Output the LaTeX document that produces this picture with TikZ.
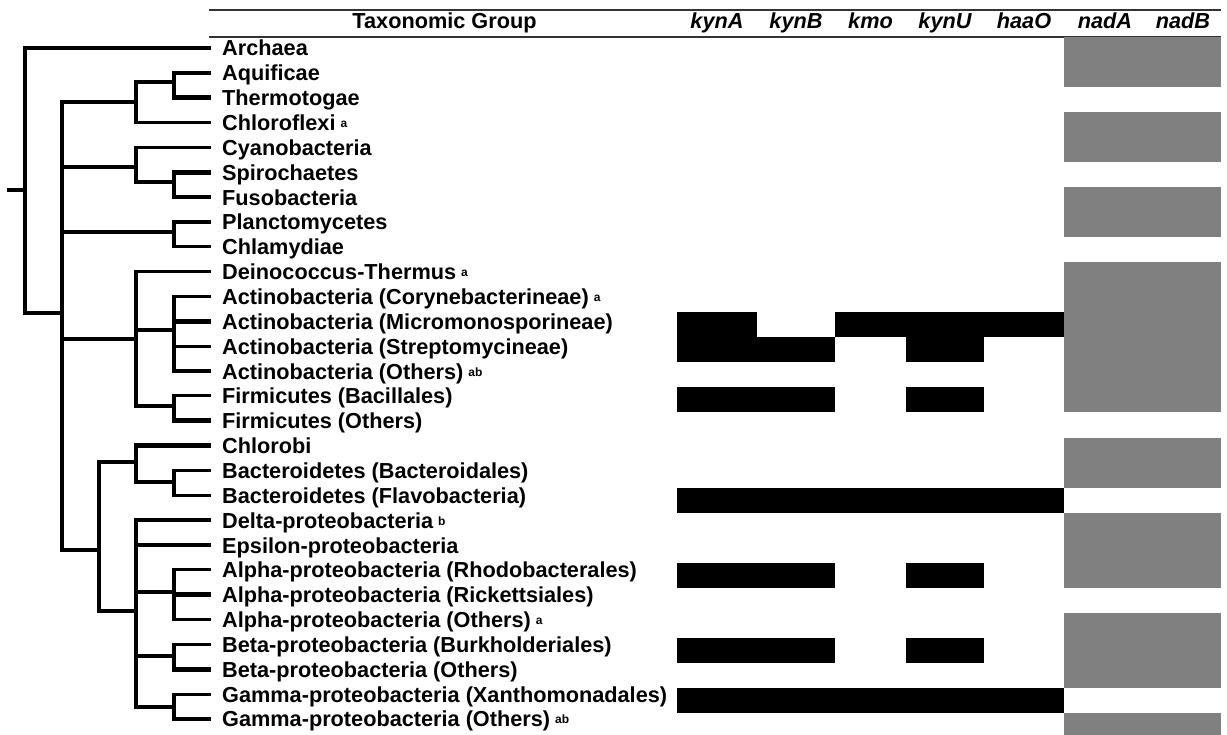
\documentclass[tikz,border=0pt]{standalone}
\usepackage{fontspec}
\setmainfont{Liberation Sans}
\definecolor{nadgray}{HTML}{808080}
\newcommand\supmark[1]{\hspace{5pt}\raisebox{3pt}{\fontsize{12}{12}\selectfont #1}}
\begin{document}
\begin{tikzpicture}[x=1pt,y=-1pt,
  thk/.style={line width=4.6pt, line cap=rect},
  thn/.style={line width=3.2pt, line cap=rect},
  lbl/.style={anchor=base west, inner sep=0pt, font=\fontsize{21.7}{25}\selectfont\bfseries},
  hdr/.style={anchor=base, inner sep=0pt, font=\fontsize{21.7}{25}\selectfont\bfseries},
  gene/.style={anchor=base, inner sep=0pt, font=\fontsize{21.7}{25}\selectfont\bfseries\itshape},
  hrule/.style={line width=1.6pt, draw=black!80},
  hit/.style={fill=black},
  nad/.style={fill=nadgray}]
\useasboundingbox (0,0) rectangle (1227,735);

% ---- header ----
\draw[hrule] (209,10) -- (1221,10);
\draw[hrule] (209,37) -- (1221,37);
\node[hdr]  (hTax)  at (444.5,29) {Taxonomic Group};
\node[gene] (hkynA) at (717,29)   {kynA};
\node[gene] (hkynB) at (796,29)   {kynB};
\node[gene] (hkmo)  at (870.5,29) {kmo};
\node[gene] (hkynU) at (945,29)   {kynU};
\node[gene] (hhaaO) at (1024,29)  {haaO};
\node[gene] (hnadA) at (1105,29)  {nadA};
\node[gene] (hnadB) at (1183,29)  {nadB};

% ---- taxon labels and leaf tips ----
\foreach \i in {0,...,27} \coordinate (L\i) at (209,48+24.85*\i);
\foreach \i/\t in {
  0/Archaea, 1/Aquificae, 2/Thermotogae, 3/Chloroflexi\supmark{a},
  4/Cyanobacteria, 5/Spirochaetes, 6/Fusobacteria, 7/Planctomycetes,
  8/Chlamydiae, 9/Deinococcus-Thermus\supmark{a},
  10/Actinobacteria (Corynebacterineae)\supmark{a},
  11/Actinobacteria (Micromonosporineae),
  12/Actinobacteria (Streptomycineae),
  13/Actinobacteria (Others)\supmark{ab},
  14/Firmicutes (Bacillales), 15/Firmicutes (Others), 16/Chlorobi,
  17/Bacteroidetes (Bacteroidales), 18/Bacteroidetes (Flavobacteria),
  19/Delta-proteobacteria\supmark{b}, 20/Epsilon-proteobacteria,
  21/Alpha-proteobacteria (Rhodobacterales),
  22/Alpha-proteobacteria (Rickettsiales),
  23/Alpha-proteobacteria (Others)\supmark{a},
  24/Beta-proteobacteria (Burkholderiales),
  25/Beta-proteobacteria (Others),
  26/Gamma-proteobacteria (Xanthomonadales),
  27/Gamma-proteobacteria (Others)\supmark{ab}}
  \node[lbl] (T\i) at (222,56+24.85*\i) {\t};

% ---- presence cells ----
% columns: 677 | 757 | 835 | 906 | 984 | 1064 | 1221 ; row i spans 37.5+25i .. 62.5+25i
\fill[hit] (677,312.5) rectangle (757,337.5);
\fill[hit] (835,312.5) rectangle (1064,337.5);
\fill[hit] (677,337.5) rectangle (835,362.5);
\fill[hit] (906,337.5) rectangle (984,362.5);
\fill[hit] (677,387.5) rectangle (835,412.5);
\fill[hit] (906,387.5) rectangle (984,412.5);
\fill[hit] (677,487.5) rectangle (1064,512.5);
\fill[hit] (677,562.5) rectangle (835,587.5);
\fill[hit] (906,562.5) rectangle (984,587.5);
\fill[hit] (677,637.5) rectangle (835,662.5);
\fill[hit] (906,637.5) rectangle (984,662.5);
\fill[hit] (677,687.5) rectangle (1064,712.5);

\fill[nad] (1064,37.5)  rectangle (1221,87.5);
\fill[nad] (1064,112.5) rectangle (1221,162.5);
\fill[nad] (1064,187.5) rectangle (1221,237.5);
\fill[nad] (1064,262.5) rectangle (1221,412.5);
\fill[nad] (1064,437.5) rectangle (1221,487.5);
\fill[nad] (1064,512.5) rectangle (1221,587.5);
\fill[nad] (1064,612.5) rectangle (1221,687.5);
\fill[nad] (1064,712.5) rectangle (1221,735);

% ---- tree junctions ----
\coordinate (S)   at (9,190);
\coordinate (R)   at (25,190);
\coordinate (N1)  at (62,313);
\coordinate (A)   at (136,102);
\coordinate (A1)  at (174,82);
\coordinate (B)   at (136,167);
\coordinate (B1)  at (174,182);
\coordinate (C)   at (174,232);
\coordinate (D)   at (136,339);
\coordinate (D1)  at (174,330);
\coordinate (D2)  at (174,406);
\coordinate (E)   at (99,550);
\coordinate (E1)  at (136,462);
\coordinate (E11) at (174,482);
\coordinate (E2)  at (136,611);
\coordinate (E21) at (174,592);
\coordinate (E22) at (174,656);
\coordinate (E23) at (174,707);

% vertical bars
\draw[thk] (R |- L0) -- (R |- N1);
\draw[thk] (N1 |- A) -- (N1 |- E);
\draw[thn] (A |- A1) -- (A |- L3);
\draw[thk] (A1 |- L1) -- (A1 |- L2);
\draw[thn] (B |- L4) -- (B |- B1);
\draw[thk] (B1 |- L5) -- (B1 |- L6);
\draw[thn] (C |- L7) -- (C |- L8);
\draw[thn] (D |- L9) -- (D |- D2);
\draw[thn] (D1 |- L10) -- (D1 |- L13);
\draw[thn] (D2 |- L14) -- (D2 |- L15);
\draw[thn] (E |- E1) -- (E |- E2);
\draw[thn] (E1 |- L16) -- (E1 |- E11);
\draw[thn] (E11 |- L17) -- (E11 |- L18);
\draw[thn] (E2 |- L19) -- (E2 |- E23);
\draw[thn] (E21 |- L21) -- (E21 |- L23);
\draw[thn] (E22 |- L24) -- (E22 |- L25);
\draw[thn] (E23 |- L26) -- (E23 |- L27);

% horizontal branches
\draw[thk] (S) -- (R);
\draw[thk] (R |- L0) -- (L0);
\draw[thk] (R |- N1) -- (N1);
\draw[thn] (N1 |- A) -- (A);
\draw[thn] (A |- A1) -- (A1);
\draw[thk] (A1 |- L1) -- (L1);
\draw[thk] (A1 |- L2) -- (L2);
\draw[thn] (A |- L3) -- (L3);
\draw[thk] (N1 |- B) -- (B);
\draw[thn] (B |- L4) -- (L4);
\draw[thn] (B |- B1) -- (B1);
\draw[thk] (B1 |- L5) -- (L5);
\draw[thn] (B1 |- L6) -- (L6);
\draw[thn] (N1 |- C) -- (C);
\draw[thk] (C |- L7) -- (L7);
\draw[thn] (C |- L8) -- (L8);
\draw[thn] (N1 |- D) -- (D);
\draw[thn] (D |- L9) -- (L9);
\draw[thn] (D |- D1) -- (D1);
\draw[thn] (D1 |- L10) -- (L10);
\draw[thk] (D1 |- L11) -- (L11);
\draw[thn] (D1 |- L12) -- (L12);
\draw[thn] (D1 |- L13) -- (L13);
\draw[thn] (D |- D2) -- (D2);
\draw[thn] (D2 |- L14) -- (L14);
\draw[thk] (D2 |- L15) -- (L15);
\draw[thn] (N1 |- E) -- (E);
\draw[thn] (E |- E1) -- (E1);
\draw[thk] (E1 |- L16) -- (L16);
\draw[thn] (E1 |- E11) -- (E11);
\draw[thn] (E11 |- L17) -- (L17);
\draw[thn] (E11 |- L18) -- (L18);
\draw[thn] (E |- E2) -- (E2);
\draw[thk] (E2 |- L19) -- (L19);
\draw[thk] (E2 |- L20) -- (L20);
\draw[thn] (E2 |- E21) -- (E21);
\draw[thn] (E21 |- L21) -- (L21);
\draw[thk] (E21 |- L22) -- (L22);
\draw[thn] (E21 |- L23) -- (L23);
\draw[thn] (E2 |- E22) -- (E22);
\draw[thn] (E22 |- L24) -- (L24);
\draw[thk] (E22 |- L25) -- (L25);
\draw[thn] (E2 |- E23) -- (E23);
\draw[thn] (E23 |- L26) -- (L26);
\draw[thk] (E23 |- L27) -- (L27);
\end{tikzpicture}
\end{document}
